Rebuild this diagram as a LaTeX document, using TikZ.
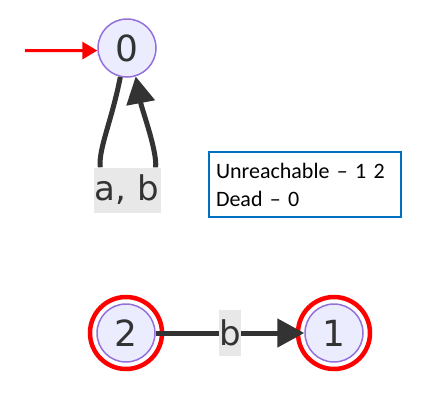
\documentclass[tikz,border=0pt]{standalone}
\usepackage{fontspec}
\setmainfont{DejaVu Sans}
\newfontfamily\notefont{Carlito}
\usetikzlibrary{arrows.meta,positioning}

\begin{document}
\begin{tikzpicture}[x=1pt,y=-1pt]
%
\useasboundingbox (0,0) rectangle (423,400);
%
\definecolor{cstate}{HTML}{9370DB}
\definecolor{cfstate}{HTML}{ECECFF}
\definecolor{cedge}{HTML}{333333}
\definecolor{cflab}{HTML}{E8E8E8}
\definecolor{cnote}{HTML}{0070C0}
\definecolor{cfinal}{HTML}{FF0000}
%
\tikzset{
  state/.style={circle,draw=cstate,fill=cfstate,text=cedge,line width=1.5pt,minimum size=58pt,inner sep=0pt,font=\fontsize{36}{40}\selectfont},
  edge/.style={draw=cedge,line width=5pt},
  edgetip/.style={-{Triangle[length=27pt,width=28pt]}},
  elabel/.style={fill=cflab,text=cedge,inner sep=0pt,font=\fontsize{34}{40}\selectfont},
  finalring/.style={draw=cfinal,line width=4.5pt},
  initarrow/.style={draw=cfinal,line width=3pt,-{Triangle[length=15pt,width=17pt]}},
  notebox/.style={draw=cnote,line width=2pt,minimum width=192pt,minimum height=65pt,text width=178pt,align=left,inner sep=0pt,font=\notefont\fontsize{22}{28}\selectfont}
}
%
\node[state] (n0) at (127,48) {0};
\node[state] (n2) at (126,333) {2};
\node[state] (n1) at (334,333) {1};
\draw[finalring] (n2.center) circle (36);
\draw[finalring] (n1.center) circle (36);
%
\coordinate (init) at (25,50.5);
\draw[initarrow] (init) -- (n0.185);
%
\node[elabel,minimum width=67pt,minimum height=45pt] (lab0) at (127,190) {a, b};
\coordinate (la) at ([xshift=7pt]lab0.north west);
\coordinate (lb) at ([xshift=-5pt]lab0.north east);
\draw[edge] (n0.-103) .. controls (112,120) and (98,150) .. (la);
\draw[edge,edgetip] (lb) .. controls (157,150) and (142,110) .. (n0.-73);
%
\draw[edge,edgetip] (n2) -- node[elabel,minimum width=21pt,minimum height=46pt] (lab1) {b} (n1);
%
\node[notebox] (note) at (305,184.5) {Unreachable – 1 2\\Dead – 0};
%
\end{tikzpicture}
\end{document}
